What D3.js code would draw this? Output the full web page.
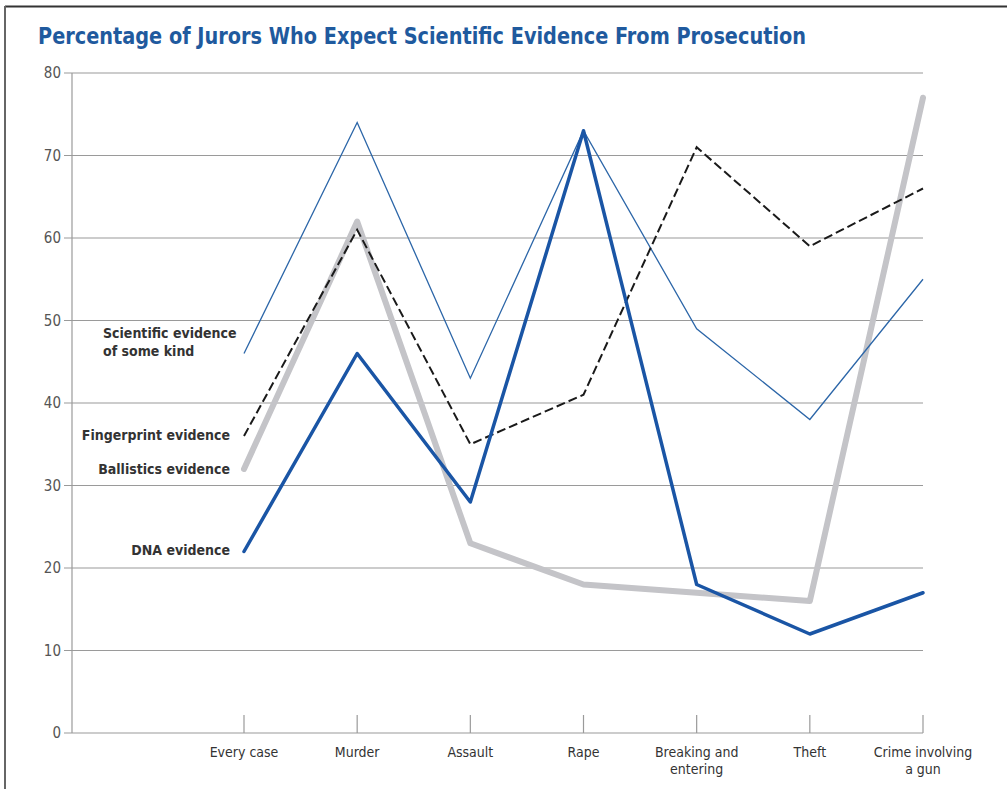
<!DOCTYPE html>
<html><head><meta charset="utf-8">
<script src="https://cdn.jsdelivr.net/npm/d3@7"></script>
<style>
html,body{margin:0;padding:0;background:#fff;}
svg{display:block;}
</style></head>
<body>
<svg id="c" width="1007" height="789"></svg>
<script>
const categories = ["Every case","Murder","Assault","Rape","Breaking and\nentering","Theft","Crime involving\na gun"];
const scientific = [46,74,43,73,49,38,55];
const fingerprint = [36,61,35,41,71,59,66];
const ballistics = [32,62,23,18,17,16,77];
const dna = [22,46,28,73,18,12,17];
const yTicks = [0,10,20,30,40,50,60,70,80];
const title = "Percentage of Jurors Who Expect Scientific Evidence From Prosecution";

const FONT = "'Liberation Sans Narrow','DejaVu Sans Condensed','Arial Narrow',sans-serif";
const svg = d3.select("#c");

// frame
svg.append("line").attr("x1",5).attr("x2",1007).attr("y1",6.5).attr("y2",6.5).attr("stroke","#333").attr("stroke-width",2);
svg.append("line").attr("x1",5).attr("x2",5).attr("y1",6).attr("y2",789).attr("stroke","#666").attr("stroke-width",2);

svg.append("text").attr("x",38).attr("y",44).text(title)
  .attr("font-family",FONT).attr("font-weight","bold").attr("font-size",23)
  .attr("fill","#1f5a9e").attr("textLength",768).attr("lengthAdjust","spacingAndGlyphs");

const x = d3.scalePoint().domain(categories).range([244,923]);
const y = d3.scaleLinear().domain([0,80]).range([733,73]);

// gridlines
svg.append("g").selectAll("line").data(yTicks).join("line")
  .attr("x1",64).attr("x2",923).attr("y1",d=>y(d)).attr("y2",d=>y(d))
  .attr("stroke","#9a9a9a").attr("stroke-width",1.2);
// y axis line
svg.append("line").attr("x1",72).attr("x2",72).attr("y1",y(80)).attr("y2",y(0)).attr("stroke","#9a9a9a").attr("stroke-width",1.2);
svg.append("g").selectAll("text").data(yTicks).join("text")
  .attr("x",61).attr("y",d=>y(d)+5).attr("text-anchor","end")
  .attr("font-family",FONT).attr("font-size",15).attr("fill","#555").text(d=>d);

// x ticks
svg.append("g").selectAll("line").data(categories).join("line")
  .attr("x1",d=>x(d)).attr("x2",d=>x(d)).attr("y1",715).attr("y2",733)
  .attr("stroke","#9a9a9a").attr("stroke-width",1.2);
const xl = svg.append("g").selectAll("text").data(categories).join("text")
  .attr("x",d=>x(d)).attr("y",757).attr("text-anchor","middle")
  .attr("font-family",FONT).attr("font-size",14).attr("fill","#333");
xl.each(function(d){
  const t=d3.select(this);
  d.split("\n").forEach((s,i)=>t.append("tspan").attr("x",x(d)).attr("dy",i?17:0).text(s));
});

const line = d3.line().x((d,i)=>x(categories[i])).y(d=>y(d));
svg.append("path").datum(ballistics).attr("d",line).attr("fill","none")
  .attr("stroke","#c4c4c8").attr("stroke-width",6).attr("stroke-linecap","round").attr("stroke-linejoin","round");
svg.append("path").datum(scientific).attr("d",line).attr("fill","none")
  .attr("stroke","#2c66a8").attr("stroke-width",1.3);
svg.append("path").datum(fingerprint).attr("d",line).attr("fill","none")
  .attr("stroke","#1a1a1a").attr("stroke-width",2).attr("stroke-dasharray","9,4");
svg.append("path").datum(dna).attr("d",line).attr("fill","none")
  .attr("stroke","#1a55a5").attr("stroke-width",3.5).attr("stroke-linejoin","round").attr("stroke-linecap","round");

const lab = (txt,xx,yy,anchor)=>svg.append("text").attr("x",xx).attr("y",yy).attr("text-anchor",anchor)
  .attr("font-family",FONT).attr("font-weight","bold").attr("font-size",14).attr("fill","#333").text(txt);
lab("Scientific evidence",103,338,"start");
lab("of some kind",103,356,"start");
lab("Fingerprint evidence",230,440,"end");
lab("Ballistics evidence",230,474,"end");
lab("DNA evidence",230,555,"end");
</script>
</body></html>
